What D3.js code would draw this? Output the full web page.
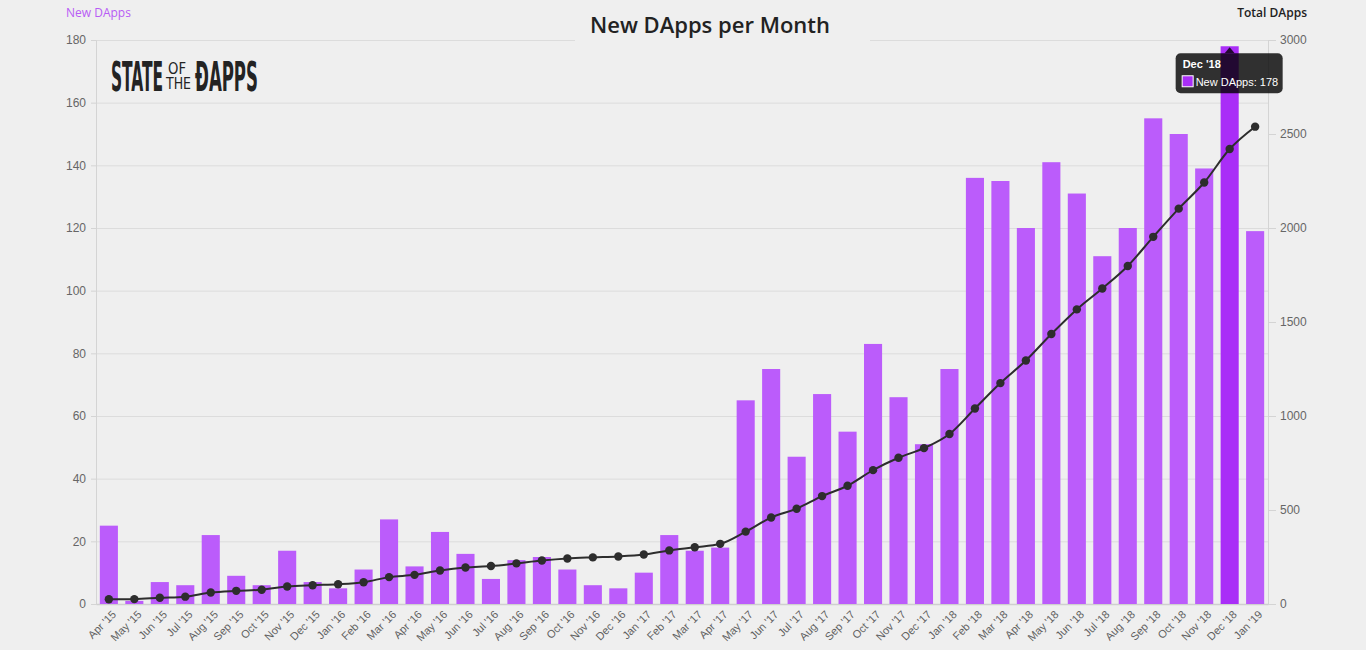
<!DOCTYPE html>
<html>
<head>
<meta charset="utf-8">
<script src="https://cdn.jsdelivr.net/npm/d3@7/dist/d3.min.js"></script>
<style>
  body { margin: 0; background: #efefef; }
  svg { display: block; font-family: "Open Sans", Lato, sans-serif; }
</style>
</head>
<body>
<div id="chart"></div>
<script>
// months on the x axis
var months = ["Apr '15","May '15","Jun '15","Jul '15","Aug '15","Sep '15","Oct '15","Nov '15","Dec '15",
  "Jan '16","Feb '16","Mar '16","Apr '16","May '16","Jun '16","Jul '16","Aug '16","Sep '16","Oct '16","Nov '16","Dec '16",
  "Jan '17","Feb '17","Mar '17","Apr '17","May '17","Jun '17","Jul '17","Aug '17","Sep '17","Oct '17","Nov '17","Dec '17",
  "Jan '18","Feb '18","Mar '18","Apr '18","May '18","Jun '18","Jul '18","Aug '18","Sep '18","Oct '18","Nov '18","Dec '18",
  "Jan '19"];

// new dapps per month (bars, left axis)
var newDapps = [25, 1, 7, 6, 22, 9, 6, 17, 7,
  5, 11, 27, 12, 23, 16, 8, 14, 15, 11, 6, 5,
  10, 22, 17, 18, 65, 75, 47, 67, 55, 83, 66, 51,
  75, 136, 135, 120, 141, 131, 111, 120, 155, 150, 139, 178,
  119];

// total dapps (line, right axis)
var totalDapps = [25, 26, 33, 39, 61, 70, 76, 93, 100,
  105, 116, 143, 155, 178, 194, 202, 216, 231, 242, 248, 253,
  263, 285, 302, 320, 385, 460, 507, 574, 629, 712, 778, 829,
  904, 1040, 1175, 1295, 1436, 1567, 1678, 1798, 1953, 2103, 2242, 2420,
  2539];

var leftTicks = [0, 20, 40, 60, 80, 100, 120, 140, 160, 180];
var rightTicks = [0, 500, 1000, 1500, 2000, 2500, 3000];
var highlight = "Dec '18";

var W = 1366, H = 650;
var margin = { top: 40, right: 98, bottom: 46, left: 96 },
    width = W - margin.left - margin.right,
    height = H - margin.top - margin.bottom;

var svg = d3.select("#chart").append("svg")
    .attr("width", W)
    .attr("height", H);

svg.append("rect").attr("width", W).attr("height", H).attr("fill", "#efefef");

var g = svg.append("g")
    .attr("transform", "translate(" + margin.left + "," + margin.top + ")");

var x = d3.scaleBand().domain(months).range([0, width]).paddingInner(0.29).paddingOuter(0.15);
var y = d3.scaleLinear().domain([0, 180]).range([height, 0]);
var y2 = d3.scaleLinear().domain([0, 3000]).range([height, 0]);

// grid lines
g.append("g")
    .attr("class", "grid")
    .call(d3.axisLeft(y).tickValues(leftTicks).tickSize(-width).tickFormat(""))
    .call(s => s.select(".domain").remove())
    .selectAll("line").attr("stroke", "#dcdcdc");

// left axis
var yAxis = g.append("g")
    .call(d3.axisLeft(y).tickValues(leftTicks).tickSize(5).tickPadding(5));
yAxis.select(".domain").attr("stroke", "#d4d4d4");
yAxis.selectAll(".tick line").attr("stroke", "#d4d4d4");
yAxis.selectAll("text").attr("fill", "#666").style("font-size", "12px");

// right axis
var yAxis2 = g.append("g")
    .attr("transform", "translate(" + width + ",0)")
    .call(d3.axisRight(y2).tickValues(rightTicks).tickFormat(d3.format("d")).tickSize(8).tickPadding(4));
yAxis2.select(".domain").attr("stroke", "#d4d4d4");
yAxis2.selectAll(".tick line").attr("stroke", "#d4d4d4");
yAxis2.selectAll("text").attr("fill", "#666").style("font-size", "12px");

// x axis
var xAxis = g.append("g")
    .attr("transform", "translate(0," + height + ")")
    .call(d3.axisBottom(x).tickSize(0).tickPadding(8));
xAxis.select(".domain").attr("stroke", "#cfcfcf").attr("stroke-width", 1.5);
xAxis.selectAll("text")
    .attr("fill", "#5f5f5f")
    .style("font-size", "11px")
    .attr("text-anchor", "end")
    .attr("dx", "-0.2em")
    .attr("dy", "0.5em")
    .attr("transform", "rotate(-45)");

// bars
g.selectAll(".bar")
    .data(months)
    .enter().append("rect")
    .attr("class", "bar")
    .attr("x", d => x(d))
    .attr("y", (d, i) => y(newDapps[i]))
    .attr("width", x.bandwidth())
    .attr("height", (d, i) => height - y(newDapps[i]))
    .attr("fill", d => d === highlight ? "#a92ef7" : "#bb5cfb");

// total line
var line = d3.line()
    .x((d, i) => x(months[i]) + x.bandwidth() / 2)
    .y(d => y2(d))
    .curve(d3.curveMonotoneX);

g.append("path")
    .datum(totalDapps)
    .attr("fill", "none")
    .attr("stroke", "#2d2d2d")
    .attr("stroke-width", 2)
    .attr("d", line);

g.selectAll(".dot")
    .data(totalDapps)
    .enter().append("circle")
    .attr("class", "dot")
    .attr("cx", (d, i) => x(months[i]) + x.bandwidth() / 2)
    .attr("cy", d => y2(d))
    .attr("r", 4.2)
    .attr("fill", "#2d2d2d");

// title with background box
svg.append("rect")
    .attr("x", 575).attr("y", 0).attr("width", 295).attr("height", 42)
    .attr("fill", "#efefef");
svg.append("text")
    .attr("x", 710).attr("y", 33)
    .attr("text-anchor", "middle")
    .attr("fill", "#222")
    .style("font-size", "22px")
    .style("font-weight", 600)
    .text("New DApps per Month");

// axis titles
svg.append("text")
    .attr("x", 66).attr("y", 17)
    .attr("fill", "#b85cf5")
    .style("font-size", "12px")
    .text("New DApps");
svg.append("text")
    .attr("x", 1307).attr("y", 17)
    .attr("text-anchor", "end")
    .attr("fill", "#222")
    .style("font-size", "12px")
    .style("font-weight", 600)
    .text("Total DApps");

// logo: condensed words squeezed into their boxes with a scale transform
function logoWord(txt, x0, yBase, w, capH, bold) {
    var t = svg.append("text")
        .attr("fill", "#232323")
        .style("font-family", "'DejaVu Sans Condensed', 'Liberation Sans Narrow', sans-serif")
        .style("font-weight", bold ? "bold" : "normal")
        .style("font-size", "20px")
        .text(txt);
    var natural = t.node().getComputedTextLength();
    var sx = w / natural, sy = capH / (20 * 0.73);
    t.attr("transform", "translate(" + x0 + "," + yBase + ") scale(" + sx + "," + sy + ")");
}
logoWord("STATE", 111, 91, 52, 30, true);
logoWord("OF", 168, 74, 18, 11, false);
logoWord("THE", 166, 89, 25, 11, false);
logoWord("ĐAPPS", 195, 91, 63, 30, true);

// tooltip for the highlighted month
var hi = months.indexOf(highlight);
var tx = margin.left + x(highlight) + x.bandwidth() / 2;
var ty = margin.top + y(newDapps[hi]);
var tip = svg.append("g");
tip.append("path")
    .attr("d", "M" + (tx - 5) + "," + (ty + 7) + "L" + tx + "," + (ty + 1) + "L" + (tx + 5) + "," + (ty + 7) + "Z")
    .attr("fill", "rgba(0,0,0,0.8)");
tip.append("rect")
    .attr("x", tx - 54).attr("y", ty + 7)
    .attr("width", 107).attr("height", 40)
    .attr("rx", 5)
    .attr("fill", "rgba(0,0,0,0.8)");
tip.append("text")
    .attr("x", tx - 47).attr("y", ty + 22)
    .attr("fill", "#fff")
    .style("font-family", "'Liberation Sans', Arial, sans-serif")
    .style("font-size", "11px").style("font-weight", "bold")
    .text(highlight);
tip.append("rect")
    .attr("x", tx - 47.5).attr("y", ty + 29.5)
    .attr("width", 11).attr("height", 11)
    .attr("fill", "#a92ef7").attr("stroke", "#fff");
tip.append("text")
    .attr("x", tx - 34).attr("y", ty + 40)
    .attr("fill", "#fff")
    .style("font-family", "'Liberation Sans', Arial, sans-serif")
    .style("font-size", "11px")
    .text("New DApps: " + newDapps[hi]);
</script>
</body>
</html>
